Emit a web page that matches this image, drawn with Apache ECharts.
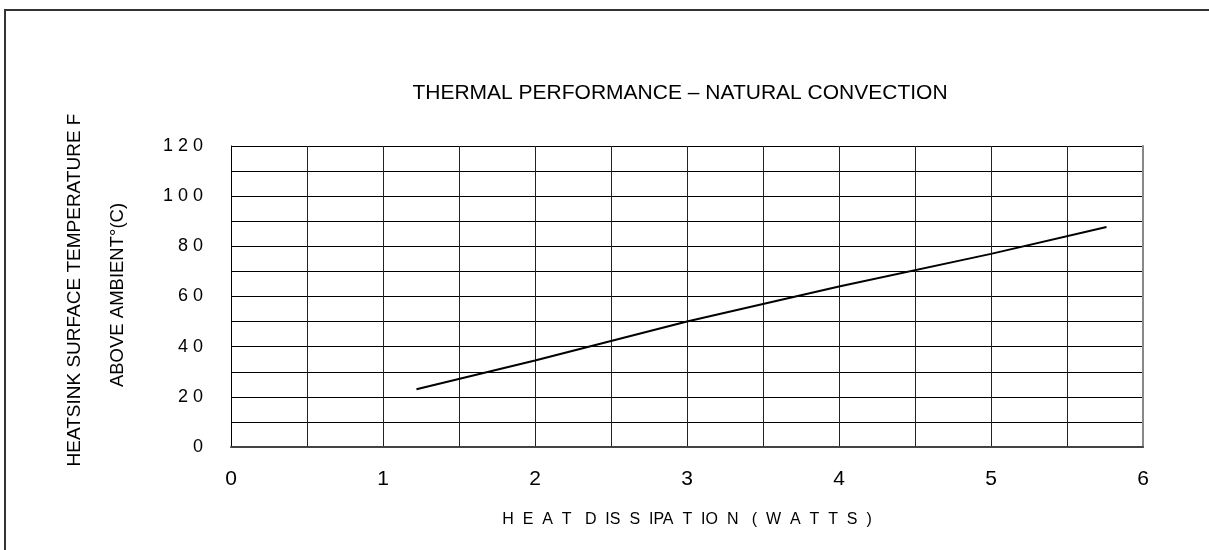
<!DOCTYPE html>
<html>
<head>
<meta charset="utf-8">
<script src="https://cdn.jsdelivr.net/npm/echarts@6/dist/echarts.min.js"></script>
<style>html,body{margin:0;padding:0;background:#fff}#c{width:1209px;height:550px}</style>
</head>
<body>
<div id="c"></div>
<script>
const titleText = 'THERMAL PERFORMANCE \u2013 NATURAL CONVECTION';
const xName = 'H  E  A  T   D  IS  S  IPA  T  IO  N   (  W  A  T  T  S  )';
const yName1 = 'HEATSINK SURFACE TEMPERATURE F';
const yName2 = 'ABOVE AMBIENT\u00b0(C)';
const watts = [1.22, 2, 3, 4, 5, 5.76];
const tempRise = [23, 34.5, 50, 64, 77, 87.7];

const chart = echarts.init(document.getElementById('c'));
const font = 'Liberation Sans, Arial, sans-serif';
chart.setOption({
  animation: false,
  backgroundColor: '#fff',
  title: {
    text: titleText, left: 675, top: 78, textAlign: 'center',
    textStyle: { fontFamily: font, fontSize: 21, fontWeight: 'normal', color: '#000' }
  },
  grid: { left: 231, right: 66, top: 146, bottom: 103 },
  xAxis: {
    type: 'value', min: 0, max: 6, interval: 0.5,
    name: xName, nameLocation: 'middle', nameGap: 65,
    nameTextStyle: { fontFamily: font, fontSize: 16, color: '#000' },
    axisLine: { show: true, onZero: false, lineStyle: { color: '#444', width: 2 } },
    axisTick: { show: false },
    axisLabel: {
      margin: 22, fontFamily: font, fontSize: 21, color: '#000',
      formatter: v => (Math.abs(v - Math.round(v)) < 1e-6 ? String(Math.round(v)) : '')
    },
    splitLine: { show: true, lineStyle: { color: '#222', width: 1 } }
  },
  yAxis: [{
    type: 'value', min: 0, max: 120, interval: 10,
    axisLine: { show: true, lineStyle: { color: '#000', width: 1 } },
    axisTick: { show: false },
    axisLabel: {
      margin: 28, fontFamily: font, fontSize: 18, color: '#000',
      formatter: v => (v % 20 === 0 ? String(v).split('').join(' ') : '')
    },
    splitLine: { show: true, lineStyle: { color: '#000', width: 1 } }
  }, {
    type: 'value', min: 0, max: 120, interval: 10, position: 'right',
    axisLine: { show: true, lineStyle: { color: '#888', width: 2 } },
    axisTick: { show: false }, axisLabel: { show: false }, splitLine: { show: false }
  }],
  graphic: [
    { type: 'rect', x: 0, y: 0, shape: { x: 5, y: 10, width: 1300, height: 700 },
      style: { fill: 'none', stroke: '#333', lineWidth: 2 }, silent: true },
    { type: 'text', x: 75, y: 290, rotation: Math.PI / 2,
      style: { text: yName1, fontFamily: font, fontSize: 19, fill: '#000', align: 'center', verticalAlign: 'middle' } },
    { type: 'text', x: 118, y: 295, rotation: Math.PI / 2,
      style: { text: yName2, fontFamily: font, fontSize: 18.5, fill: '#000', align: 'center', verticalAlign: 'middle' } }
  ],
  series: [{
    type: 'line', data: watts.map((w, i) => [w, tempRise[i]]),
    showSymbol: false, symbol: 'none',
    lineStyle: { color: '#000', width: 2 }
  }]
});
</script>
</body>
</html>
